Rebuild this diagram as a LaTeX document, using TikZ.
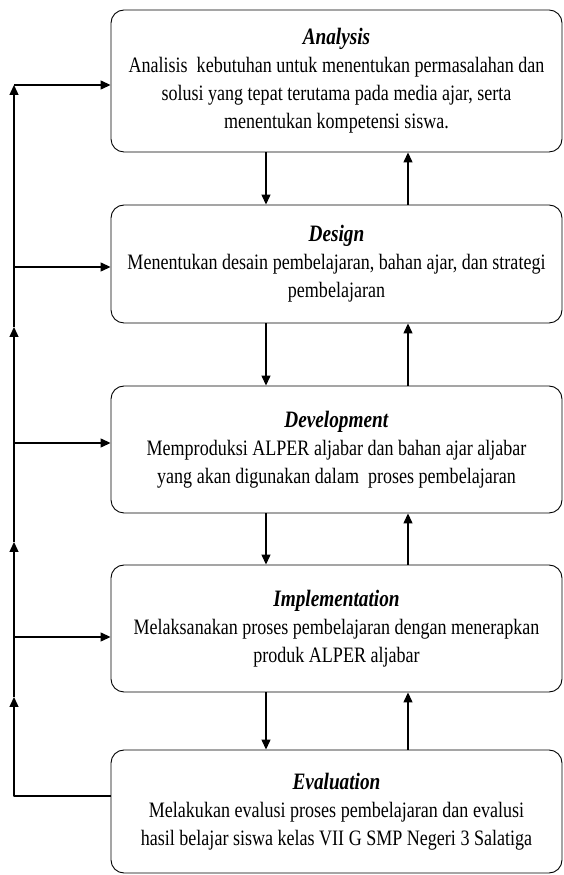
\documentclass[tikz,border=0pt]{standalone}
\usepackage{fontspec}
\setmainfont[FakeStretch=0.82]{Liberation Serif}
\usetikzlibrary{arrows.meta,positioning,calc}
\tikzset{
  stage/.style={draw, rounded corners=13pt, minimum width=451pt, align=center,
    inner sep=0pt, line width=0.9pt, font=\fontsize{22}{28}\selectfont},
  flow/.style={-{Triangle[length=10pt,width=9pt]}, line width=1.3pt}
}
\newcommand \stagetitle[1]{{\fontsize{23.5}{28}\selectfont\textbf{\textit{#1}}}}

\begin{document}
\begin{tikzpicture}[x=1pt, y=1pt, line join=round]
\useasboundingbox (0,0) rectangle (563,875);
\node[stage, minimum height=142pt] (A)   at (336.5,794)   {\stagetitle{Analysis}\\
  Analisis\ \ kebutuhan untuk menentukan permasalahan dan\\
  solusi yang tepat terutama pada media ajar, serta\\
  menentukan kompetensi siswa.};
\node[stage, minimum height=118pt] (D)   at (336.5,611)   {\stagetitle{Design}\\
  Menentukan desain pembelajaran, bahan ajar, dan strategi\\
  pembelajaran};
\node[stage, minimum height=127pt] (Dev) at (336.5,425.5) {\stagetitle{Development}\\
  Memproduksi ALPER aljabar dan bahan ajar aljabar\\
  yang akan digunakan dalam\ \ proses pembelajaran};
\node[stage, minimum height=127pt] (I)   at (336.5,246.5) {\stagetitle{Implementation}\\
  Melaksanakan proses pembelajaran dengan menerapkan\\
  produk ALPER aljabar};
\node[stage, minimum height=123pt] (E)   at (336.5,63.5)  {\stagetitle{Evaluation}\\
  Melakukan evalusi proses pembelajaran dan evalusi\\
  hasil belajar siswa kelas VII G SMP Negeri 3 Salatiga};
\coordinate (dn) at (266,0);
\coordinate (up) at (408,0);
\foreach \s/\t in {A/D, D/Dev, Dev/I, I/E}
{
\draw[flow] (\s.south -| dn) -- (\t.north -| dn);
\draw[flow] (\t.north -| up) -- (\s.south -| up);
}
\coordinate (LE)  at (14,79);
\coordinate (L1)  at (14,178);
\coordinate (LI)  at (14,238);
\coordinate (L2)  at (14,333);
\coordinate (LDv) at (14,432);
\coordinate (L3)  at (14,548);
\coordinate (LD)  at (14,608);
\coordinate (LA)  at (14,790);
\draw[flow] (LE -| E.west) -- (LE) -- (L1);
\draw[flow] (L1) -- (L2);
\draw[flow] (L2) -- (L3);
\draw[flow] (L3) -- (LA);
\draw[flow] (LA) -- (LA -| A.west);
\draw[flow] (LD) -- (LD -| D.west);
\draw[flow] (LDv) -- (LDv -| Dev.west);
\draw[flow] (LI) -- (LI -| I.west);
\end{tikzpicture}
\end{document}
